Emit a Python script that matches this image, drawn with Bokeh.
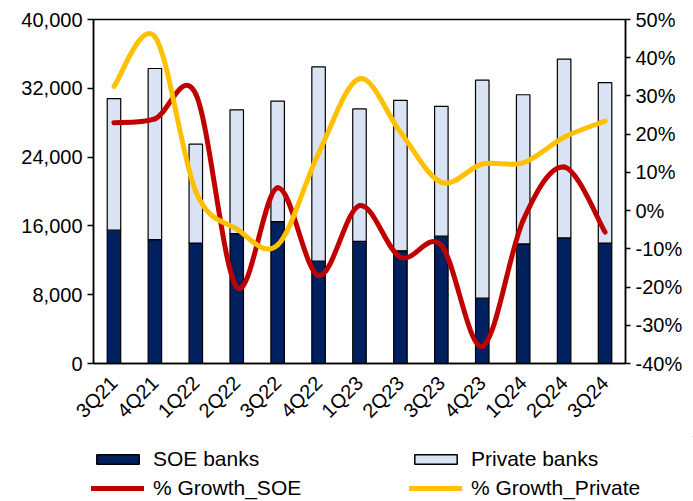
import math
from bokeh.plotting import figure
from bokeh.models import (Range1d, LinearAxis, FixedTicker, NumeralTickFormatter,
                          Legend, LegendItem, ColumnDataSource)
from bokeh.embed import file_html
from bokeh.resources import INLINE

quarters = ["3Q21", "4Q21", "1Q22", "2Q22", "3Q22", "4Q22", "1Q23",
            "2Q23", "3Q23", "4Q23", "1Q24", "2Q24", "3Q24"]
soe_banks = [15500, 14400, 14000, 15100, 16500, 11900, 14200,
             13100, 14800, 7600, 13900, 14600, 14000]
private_banks = [15300, 19900, 11500, 14400, 14000, 22600, 15400,
                 17500, 15100, 25350, 17350, 20800, 18650]
growth_soe = [0.23, 0.24, 0.305, -0.20, 0.06, -0.17, 0.013,
              -0.122, -0.091, -0.355, -0.025, 0.114, -0.056]
growth_private = [0.325, 0.455, 0.05, -0.048, -0.09, 0.15, 0.345,
                  0.205, 0.074, 0.122, 0.125, 0.192, 0.234]

FONT = "Liberation Sans"
NAVY = "#002060"
LIGHT = "#DAE3F3"
RED = "#C00000"
YELLOW = "#FFC000"

xs = list(range(len(quarters)))

MAIN_H = 436
p = figure(width=693, height=MAIN_H, output_backend="svg", toolbar_location=None,
           x_range=Range1d(-0.5, len(quarters) - 0.5), y_range=Range1d(0, 40000),
           min_border_left=93, min_border_right=68, min_border_top=19,
           min_border_bottom=MAIN_H - 363)
p.extra_y_ranges = {"pct": Range1d(-0.4, 0.5)}
p.xgrid.visible = False
p.ygrid.visible = False
p.outline_line_color = "black"
p.outline_line_width = 1.5
p.background_fill_color = "white"
p.border_fill_color = "white"

src = ColumnDataSource(dict(x=xs, soe=soe_banks, private=private_banks))
bars = p.vbar_stack(["soe", "private"], x="x", width=0.33, source=src,
                    fill_color=[NAVY, LIGHT], line_color="black", line_width=1.2)


def smooth_segments(xv, yv):
    n = len(xv)
    out = dict(x0=[], y0=[], x1=[], y1=[], cx0=[], cy0=[], cx1=[], cy1=[])
    for i in range(n - 1):
        a = i - 1 if i > 0 else i
        d = i + 2 if i + 2 < n else i + 1
        out["x0"].append(xv[i]); out["y0"].append(yv[i])
        out["x1"].append(xv[i + 1]); out["y1"].append(yv[i + 1])
        out["cx0"].append(xv[i] + (xv[i + 1] - xv[a]) / 6)
        out["cy0"].append(yv[i] + (yv[i + 1] - yv[a]) / 6)
        out["cx1"].append(xv[i + 1] - (xv[d] - xv[i]) / 6)
        out["cy1"].append(yv[i + 1] - (yv[d] - yv[i]) / 6)
    return out


for series, col in ((growth_soe, RED), (growth_private, YELLOW)):
    seg = ColumnDataSource(smooth_segments(xs, series))
    p.bezier(x0="x0", y0="y0", x1="x1", y1="y1", cx0="cx0", cy0="cy0",
             cx1="cx1", cy1="cy1", source=seg, y_range_name="pct",
             line_color=col, line_width=5, line_cap="round")

# axes
p.xaxis.ticker = FixedTicker(ticks=xs)
p.xaxis.major_label_overrides = {i: q for i, q in enumerate(quarters)}
p.xaxis.major_label_orientation = math.pi / 4
p.xaxis.major_tick_line_color = None
p.xaxis.minor_tick_line_color = None
p.xaxis.axis_line_color = "black"
p.xaxis.axis_line_width = 1.5

p.yaxis.ticker = FixedTicker(ticks=[0, 8000, 16000, 24000, 32000, 40000])
p.yaxis.formatter = NumeralTickFormatter(format="0,0")
p.yaxis.minor_tick_line_color = None
p.yaxis.major_tick_out = 6
p.yaxis.major_tick_in = 0
p.yaxis.axis_line_width = 1.5
p.yaxis.major_tick_line_width = 1.5

right = LinearAxis(y_range_name="pct",
                   ticker=FixedTicker(ticks=[-0.4, -0.3, -0.2, -0.1, 0.0, 0.1, 0.2, 0.3, 0.4, 0.5]),
                   formatter=NumeralTickFormatter(format="0%"))
right.minor_tick_line_color = None
right.major_tick_out = 5
right.major_tick_in = 0
right.axis_line_width = 1.5
right.major_tick_line_width = 1.5
p.add_layout(right, "right")

for ax in (p.xaxis[0], p.yaxis[0], right):
    ax.major_label_text_font = FONT
    ax.major_label_text_font_size = "20px"
    ax.major_label_text_color = "black"
    ax.major_label_standoff = 5
p.xaxis.major_label_standoff = 10

# legend strip below the chart (separate root so it is not frame-aligned)
LEG_H = 501 - MAIN_H
q = figure(width=693, height=LEG_H, output_backend="svg", toolbar_location=None,
           x_range=Range1d(0, 1), y_range=Range1d(0, 1),
           x_axis_type=None, y_axis_type=None,
           min_border_left=0, min_border_right=0, min_border_top=0, min_border_bottom=0)
q.outline_line_color = None
q.xgrid.visible = False
q.ygrid.visible = False
q.border_fill_color = "white"

# legend swatch renderers (their marks sit outside the visible range)
r_soe = q.vbar(x=[5], top=[5], bottom=[4], width=0.1, fill_color=NAVY,
               line_color="black", line_width=1.5)
r_priv = q.vbar(x=[5], top=[5], bottom=[4], width=0.1, fill_color=LIGHT,
                line_color="black", line_width=1.5)
r_red = q.line(x=[5, 6], y=[5, 5], line_color=RED, line_width=5, line_cap="round")
r_yel = q.line(x=[5, 6], y=[5, 5], line_color=YELLOW, line_width=5, line_cap="round")


def make_legend(items, xpos):
    lg = Legend(items=items, location=(xpos, 1))
    lg.glyph_width = 53
    lg.glyph_height = 12
    lg.label_standoff = 9
    lg.label_height = 20
    lg.spacing = 5
    lg.padding = 0
    lg.margin = 0
    lg.border_line_color = None
    lg.background_fill_alpha = 0
    lg.label_text_font = FONT
    lg.label_text_font_size = "21px"
    lg.label_text_color = "black"
    lg.label_text_baseline = "middle"
    return lg


leg1 = make_legend([LegendItem(label="SOE banks", renderers=[r_soe]),
                    LegendItem(label="% Growth_SOE", renderers=[r_red])], 91)
leg2 = make_legend([LegendItem(label="Private banks", renderers=[r_priv]),
                    LegendItem(label="% Growth_Private", renderers=[r_yel])], 409)
q.add_layout(leg1, "center")
q.add_layout(leg2, "center")

open("out.html", "w").write(file_html([p, q], INLINE))
